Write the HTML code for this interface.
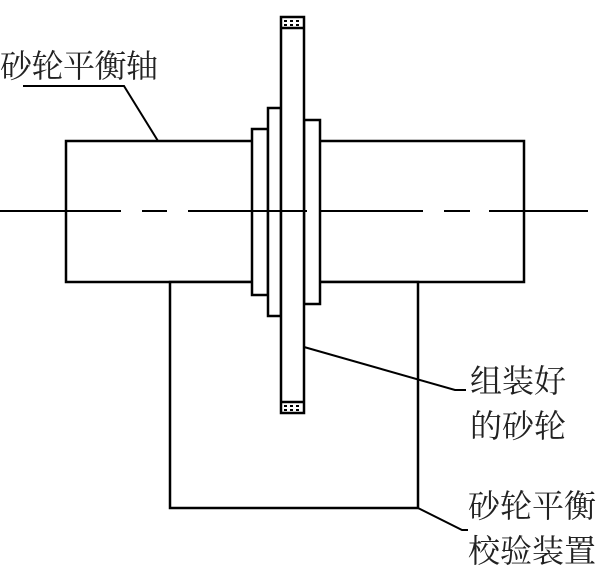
<!DOCTYPE html>
<html><head><meta charset="utf-8"><style>
html,body{margin:0;padding:0;background:#fff;}
svg{display:block;}
text{font-family:"Liberation Serif","Noto Serif CJK SC",serif;font-size:32px;fill:#222;}
</style></head><body>
<svg width="602" height="570" viewBox="0 0 602 570" xmlns="http://www.w3.org/2000/svg">
<g stroke="#000" stroke-width="2.5" fill="#fff">
<rect x="66" y="141" width="458" height="141"/>
<rect x="170" y="282" width="248" height="226"/>
<rect x="252" y="129" width="16" height="166"/>
<rect x="268" y="108" width="13" height="208"/>
<rect x="304" y="120" width="16" height="184"/>
<rect x="281" y="17" width="23" height="396"/>
<line x1="281" y1="28" x2="304" y2="28"/>
<line x1="281" y1="402" x2="304" y2="402"/>
</g>
<g fill="#000">
<rect x="284" y="20" width="3" height="2"/><rect x="290" y="20" width="3" height="2"/><rect x="296" y="20" width="3" height="2"/>
<rect x="284" y="24" width="3" height="2"/><rect x="290" y="24" width="3" height="2"/><rect x="296" y="24" width="3" height="2"/>
<rect x="284" y="405" width="3" height="2"/><rect x="290" y="405" width="3" height="2"/><rect x="296" y="405" width="3" height="2"/>
<rect x="284" y="409" width="3" height="2"/><rect x="290" y="409" width="3" height="2"/><rect x="296" y="409" width="3" height="2"/>
</g>
<g stroke="#000" stroke-width="2">
<line x1="0" y1="211" x2="121" y2="211"/>
<line x1="142" y1="211" x2="167" y2="211"/>
<line x1="188" y1="211" x2="307" y2="211"/>
<line x1="319" y1="211" x2="423" y2="211"/>
<line x1="444" y1="211" x2="470" y2="211"/>
<line x1="489" y1="211" x2="588" y2="211"/>
</g>
<g stroke="#000" stroke-width="2" fill="none">
<polyline points="23,86 124,86 158,141"/>
<polyline points="304,347 455,390 466,390"/>
<polyline points="418,508 462,530 468,530"/>
</g>
<text x="0" y="77" textLength="158">砂轮平衡轴</text>
<text x="470" y="392">组装好</text>
<text x="470" y="437">的砂轮</text>
<text x="468" y="517">砂轮平衡</text>
<text x="468" y="562">校验装置</text>
</svg>
</body></html>
